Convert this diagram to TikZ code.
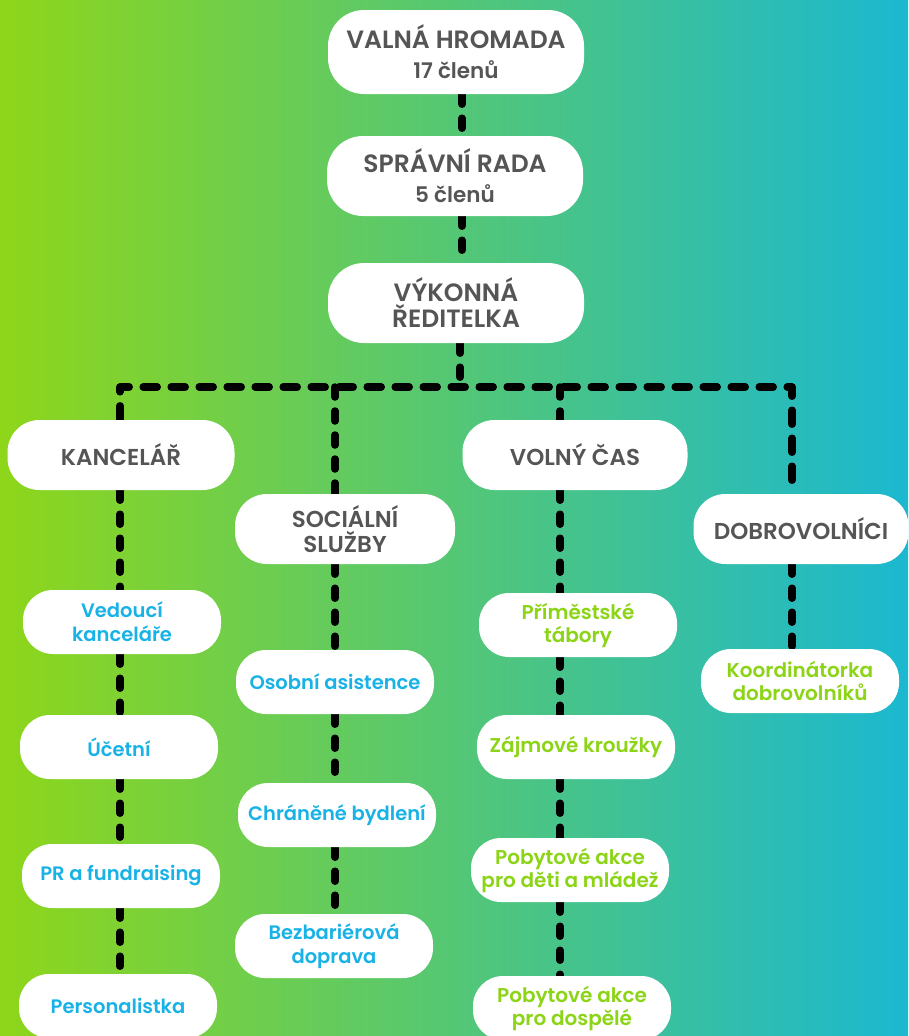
\documentclass[tikz,border=0pt]{standalone}
\usepackage{fontspec}
\setmainfont{Poppins}[BoldFont={Poppins SemiBold}]
\usetikzlibrary{backgrounds}
\definecolor{bgL}{RGB}{142,214,26}
\definecolor{bgR}{RGB}{27,184,208}
\definecolor{txtgray}{RGB}{85,85,85}
\definecolor{txtblue}{RGB}{24,178,230}
\definecolor{txtgreen}{RGB}{140,212,22}
\tikzset{
  blob/.style={fill=white, rounded corners=30pt, align=center, inner sep=0pt},
  topbox/.style={blob, rounded corners=36pt, minimum width=256pt, minimum height=80pt,
    text=txtgray, font=\fontsize{25}{29}\selectfont\bfseries},
  deptbox/.style={blob, rounded corners=32pt, minimum height=70pt,
    text=txtgray, font=\fontsize{23}{25}\selectfont\bfseries},
  bluebox/.style={blob, minimum width=198pt, minimum height=64pt,
    text=txtblue, font=\fontsize{19.5}{24}\selectfont\bfseries},
  greenbox/.style={blob, minimum width=198pt, minimum height=64pt,
    text=txtgreen, font=\fontsize{20}{23}\selectfont\bfseries},
  conn/.style={line width=7.5pt, line cap=round, dash pattern=on 10pt off 14pt, black},
  busline/.style={line width=7.5pt, line cap=round, line join=round, dash pattern=on 14pt off 14pt, black},
}
\begin{document}
\begin{tikzpicture}[x=1pt,y=-1pt]
\useasboundingbox (0,0) rectangle (908,1036);
% top
\node[topbox, minimum height=84pt] (vh) at (456,52) {VALNÁ HROMADA\\[1pt]{\fontsize{21.5}{24}\selectfont 17 členů}};
\node[topbox] (sr) at (455,176) {SPRÁVNÍ RADA\\[1pt]{\fontsize{21.5}{24}\selectfont 5 členů}};
\node[topbox, font=\fontsize{25}{26}\selectfont\bfseries] (vr) at (456,303) {VÝKONNÁ\\ŘEDITELKA};
% departments
\node[deptbox, minimum width=227pt] (kanc) at (121,455) {KANCELÁŘ};
\node[deptbox, minimum width=220pt] (soc) at (345,529) {SOCIÁLNÍ\\SLUŽBY};
\node[deptbox, minimum width=225pt] (vol) at (575,455) {VOLNÝ ČAS};
\node[deptbox, minimum width=215pt] (dobr) at (801,529) {DOBROVOLNÍCI};
% kancelar
\node[bluebox] (ved) at (122,622) {Vedoucí\\kanceláře};
\node[bluebox] (uct) at (119,747) {Účetní};
\node[bluebox] (pr) at (121,876) {PR a fundraising};
\node[bluebox] (pers) at (118,1006) {Personalistka};
% socialni
\node[bluebox] (oso) at (335,682) {Osobní asistence};
\node[bluebox] (chr) at (337,815) {Chráněné bydlení};
\node[bluebox] (bez) at (334,946) {Bezbariérová\\doprava};
% volny cas
\node[greenbox] (pri) at (578,625) {Příměstské\\tábory};
\node[greenbox] (zaj) at (576,747) {Zájmové kroužky};
\node[greenbox] (pob) at (570,870) {Pobytové akce\\pro děti a mládež};
\node[greenbox] (dosp) at (572,1008) {Pobytové akce\\pro dospělé};
% dobrovolnici
\node[greenbox] (koor) at (800,681) {Koordinátorka\\dobrovolníků};
% connector coordinates
\coordinate (bus) at (460,387);
\coordinate (bK) at (120,387);
\coordinate (bS) at (335,387);
\coordinate (bV) at (560,387);
\coordinate (bD) at (792,387);
\coordinate (cT) at (462,0);
\begin{scope}[on background layer]
\shade[left color=bgL, right color=bgR] (0,0) rectangle (908,1036);
\draw[conn] (vh.south -| cT) -- (sr.north -| cT);
\draw[conn] (sr.south -| cT) -- (vr.north -| cT);
\draw[conn] (vr.south -| bus) -- (bus);
\draw[busline] (kanc.north -| bK) -- (bK) -- (bD) -- (dobr.north -| bD);
\draw[conn] (bS) -- (soc.north -| bS);
\draw[conn] (bV) -- (vol.north -| bV);
\draw[conn] (kanc.south -| bK) -- (ved.north -| bK);
\draw[conn] (ved.south -| bK) -- (uct.north -| bK);
\draw[conn] (uct.south -| bK) -- (pr.north -| bK);
\draw[conn] (pr.south -| bK) -- (pers.north -| bK);
\draw[conn] (soc.south -| bS) -- (oso.north -| bS);
\draw[conn] (oso.south -| bS) -- (chr.north -| bS);
\draw[conn] (chr.south -| bS) -- (bez.north -| bS);
\draw[conn] (vol.south -| bV) -- (pri.north -| bV);
\draw[conn] (pri.south -| bV) -- (zaj.north -| bV);
\draw[conn] (zaj.south -| bV) -- (pob.north -| bV);
\draw[conn] (pob.south -| bV) -- (dosp.north -| bV);
\draw[conn] (dobr.south -| bD) -- (koor.north -| bD);
\end{scope}
\end{tikzpicture}
\end{document}
